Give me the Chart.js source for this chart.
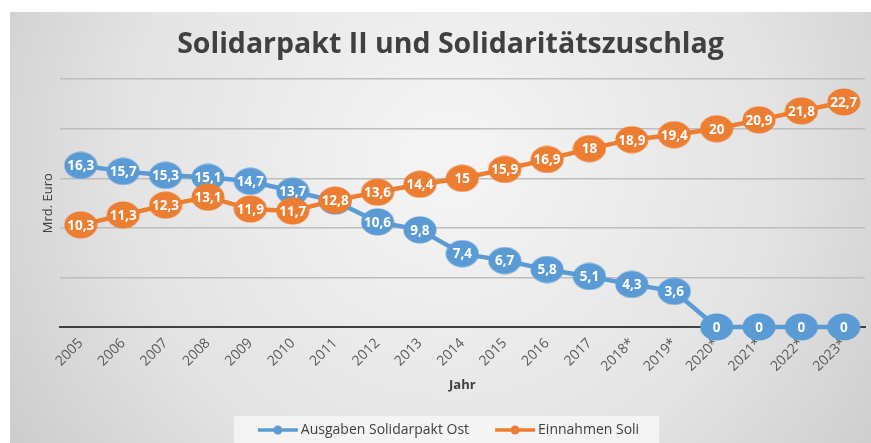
<!DOCTYPE html>
<html>
<head>
<meta charset="utf-8">
<script src="https://cdn.jsdelivr.net/npm/chart.js@4/dist/chart.umd.min.js"></script>
<style>
  html, body { margin: 0; padding: 0; background: #fff; }
  #wrap { width: 871px; height: 443px; }
</style>
</head>
<body>
<div id="wrap"><canvas id="chart" width="871" height="443"></canvas></div>
<script>
const years = ['2005', '2006', '2007', '2008', '2009', '2010', '2011', '2012', '2013', '2014',
    '2015', '2016', '2017', '2018*', '2019*', '2020*', '2021*', '2022*', '2023*'];
const ausgabenSolidarpakt = [16.3, 15.7, 15.3, 15.1, 14.7, 13.7, 12.7, 10.6, 9.8, 7.4,
    6.7, 5.8, 5.1, 4.3, 3.6, 0, 0, 0, 0];
const einnahmenSoli = [10.3, 11.3, 12.3, 13.1, 11.9, 11.7, 12.8, 13.6, 14.4, 15,
    15.9, 16.9, 18, 18.9, 19.4, 20, 20.9, 21.8, 22.7];

const BLUE = '#5b9bd5';
const ORANGE = '#ed7d31';

// ellipse shaped marker like the Excel original
function ellipseMarker(color) {
    const c = document.createElement('canvas');
    c.width = 34; c.height = 28;
    const g = c.getContext('2d');
    g.fillStyle = color;
    g.beginPath();
    g.ellipse(17, 14, 16.5, 13.5, 0, 0, Math.PI * 2);
    g.fill();
    return c;
}

// legend symbol: short line with a dot
function legendMarker(color) {
    const c = document.createElement('canvas');
    c.width = 42; c.height = 10;
    const g = c.getContext('2d');
    g.strokeStyle = color;
    g.lineWidth = 3.5;
    g.beginPath();
    g.moveTo(1, 5); g.lineTo(41, 5);
    g.stroke();
    g.fillStyle = color;
    g.beginPath();
    g.arc(21, 5, 4.5, 0, Math.PI * 2);
    g.fill();
    return c;
}

const backgroundPlugin = {
    id: 'bg',
    beforeDraw(chart) {
        const ctx = chart.ctx;
        const w = chart.width, h = chart.height;
        ctx.save();
        ctx.fillStyle = '#ffffff';
        ctx.fillRect(0, 0, w, h);
        const grad = ctx.createRadialGradient(450, 160, 40, 450, 160, 560);
        grad.addColorStop(0, '#f3f3f3');
        grad.addColorStop(0.55, '#e3e3e3');
        grad.addColorStop(1, '#c8c8c8');
        ctx.fillStyle = grad;
        ctx.fillRect(10, 12, w - 10, h - 12);

        const boxes = chart.legend && chart.legend.legendHitBoxes;
        if (boxes && boxes.length) {
            const left = Math.min(...boxes.map(b => b.left)) - 28;
            const right = Math.max(...boxes.map(b => b.left + b.width)) + 20;
            const top = Math.min(...boxes.map(b => b.top)) - 7;
            ctx.fillStyle = 'rgba(246,246,246,0.85)';
            ctx.fillRect(left, top, right - left, h - top);
        }
        ctx.restore();
    }
};

const valueLabelPlugin = {
    id: 'valueLabels',
    afterDatasetDraw(chart, args) {
        const ctx = chart.ctx;
        const meta = args.meta;
        const values = chart.data.datasets[args.index].data;
        ctx.save();
        ctx.font = 'bold 13.5px "Open Sans", sans-serif';
        ctx.fillStyle = '#ffffff';
        ctx.textAlign = 'center';
        ctx.textBaseline = 'middle';
        meta.data.forEach((pt, i) => {
            ctx.fillText(String(values[i]).replace('.', ','), pt.x, pt.y + 1);
        });
        ctx.restore();
    }
};

new Chart(document.getElementById('chart'), {
    type: 'line',
    data: {
        labels: years,
        datasets: [
            {
                label: 'Ausgaben Solidarpakt Ost',
                data: ausgabenSolidarpakt,
                borderColor: BLUE,
                backgroundColor: BLUE,
                borderWidth: 4.5,
                pointStyle: ellipseMarker(BLUE),
                pointRadius: 14,
                tension: 0,
                clip: false,
                order: 1
            },
            {
                label: 'Einnahmen Soli',
                data: einnahmenSoli,
                borderColor: ORANGE,
                backgroundColor: ORANGE,
                borderWidth: 4.5,
                pointStyle: ellipseMarker(ORANGE),
                pointRadius: 14,
                tension: 0,
                clip: false,
                order: 0
            }
        ]
    },
    options: {
        responsive: false,
        animation: false,
        layout: { autoPadding: false, padding: { left: 36, right: 6, top: 0, bottom: -4 } },
        plugins: {
            tooltip: { enabled: false },
            title: {
                display: true,
                text: 'Solidarpakt II und Solidaritätszuschlag',
                color: '#404040',
                font: { family: '"Open Sans", sans-serif', size: 28.5, weight: 'bold' },
                padding: { top: 28, bottom: 17 }
            },
            legend: {
                position: 'bottom',
                labels: {
                    color: '#404040',
                    font: { family: '"Open Sans", sans-serif', size: 14 },
                    usePointStyle: true,
                    pointStyleWidth: 32,
                    padding: 30,
                    sort: (a, b) => a.datasetIndex - b.datasetIndex,
                    generateLabels(chart) {
                        return chart.data.datasets.map((ds, i) => ({
                            text: ds.label,
                            datasetIndex: i,
                            fontColor: '#404040',
                            pointStyle: legendMarker(ds.borderColor),
                            fillStyle: ds.borderColor,
                            strokeStyle: ds.borderColor,
                            lineWidth: 0,
                            hidden: false
                        }));
                    }
                }
            }
        },
        scales: {
            x: {
                offset: true,
                grid: { display: false },
                border: { display: true, color: '#404040', width: 2 },
                ticks: {
                    color: '#595959',
                    font: { family: '"Open Sans", sans-serif', size: 14 },
                    minRotation: 45,
                    maxRotation: 45,
                    padding: 0
                },
                title: {
                    display: true,
                    text: 'Jahr',
                    color: '#404040',
                    font: { family: '"Open Sans", sans-serif', size: 13, weight: 'bold' },
                    padding: { top: 4, bottom: 0 }
                },
                afterFit(scale) {
                    scale.height = 66;
                    scale.paddingRight = 0;
                }
            },
            y: {
                min: 0,
                max: 25,
                ticks: { display: false, stepSize: 5 },
                grid: { color: '#bdbdbd', lineWidth: 1.5, drawTicks: false },
                border: { display: false },
                title: {
                    display: true,
                    text: 'Mrd. Euro',
                    color: '#404040',
                    font: { family: '"Open Sans", sans-serif', size: 13 },
                    padding: 4
                }
            }
        }
    },
    plugins: [backgroundPlugin, valueLabelPlugin]
});
</script>
</body>
</html>
